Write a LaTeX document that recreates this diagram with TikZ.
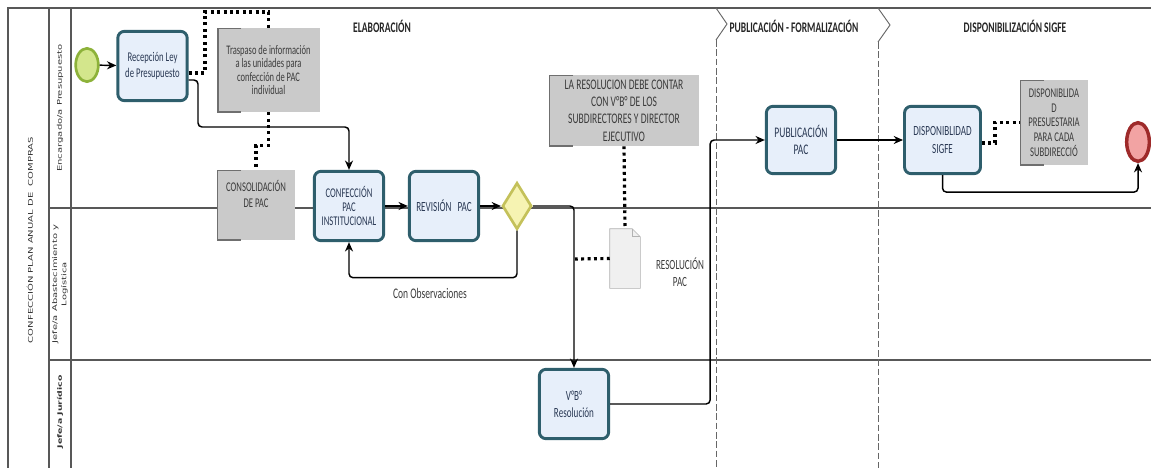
\documentclass[tikz,border=0pt]{standalone}
\usepackage{fontspec}
\setmainfont{Carlito}[FakeStretch=0.65]
\newfontfamily\lanefont{DejaVu Sans}
\usepackage{graphicx}
\usepackage[dvipsnames, svgnames]{xcolor}
\definecolor{BPMNtask}{HTML}{2E5E6C}
\definecolor{BPMNtaskfill}{HTML}{E7EFFA}
\definecolor{BPMNtext}{HTML}{2B3A55}
\definecolor{BPMNnote}{HTML}{CACACA}
\definecolor{BPMNnotetext}{HTML}{3C3C3C}
\definecolor{BPMNstart}{HTML}{D3E68C}
\definecolor{BPMNstartline}{HTML}{8DB23A}
\definecolor{BPMNend}{HTML}{F2A3A3}
\definecolor{BPMNendline}{HTML}{9E2A2A}
\definecolor{BPMNgate}{HTML}{F6F3B2}
\definecolor{BPMNgateline}{HTML}{C4C15A}
\definecolor{BPMNlane}{HTML}{585858}
\usepackage{tikz}
\usetikzlibrary{calc, arrows.meta, shapes.geometric}

\begin{document}
\begin{tikzpicture}[x=0.75pt, y=-0.75pt,
  task/.style={draw=BPMNtask, line width=2.2pt, fill=BPMNtaskfill, rounded corners=5pt,
    text=BPMNtext, font=\fontsize{10.5}{11.5}\selectfont, align=center,
    minimum width=52pt, minimum height=52pt, inner sep=1pt},
  note/.style={fill=BPMNnote, text=BPMNnotetext, align=center, inner sep=1pt,
    path picture={\draw[BPMNnote!55!black, line width=2pt]
      ([xshift=18pt]path picture bounding box.north west) -| (path picture bounding box.south west) -- ++(18pt,0);}},
  flow/.style={black, line width=1.1pt, rounded corners=3pt, -{Stealth[length=7pt, width=6pt]}},
  assoc/.style={black, line width=2.4pt, dash pattern=on 2.2pt off 2.6pt},
  lane/.style={BPMNlane, line width=1.1pt},
  phase/.style={gray!80!black, line width=0.7pt},
  title/.style={font=\bfseries\fontsize{11}{13}\selectfont, text=black!85},
  lanelabel/.style={rotate=90, font=\lanefont\fontsize{7.5}{9}\selectfont, text=black!80}
]
  \useasboundingbox (0,0) rectangle (1151,468);

  % Pool and lanes
  \draw[lane] (1151,8) -- (8,8) -- (8,468);
  \draw[lane] (49,8) -- (49,468);
  \draw[lane] (71,8) -- (71,468);
  \draw[lane] (49,208) -- (1151,208);
  \draw[lane] (49,360) -- (1151,360);
  \node[lanelabel] (pool) at (30,240) {\scalebox{1}[0.65]{CONFECCIÓN PLAN ANUAL DE \ COMPRAS}};
  \node[lanelabel] (lanePres) at (60,108) {\scalebox{1}[0.65]{Encargado/a Presupuesto}};
  \node[lanelabel] (laneAbas) at (60,284) {\scalebox{1}[0.65]{\shortstack{Jefe/a Abastecimiento y\\Logística}}};
  \node[lanelabel, font=\lanefont\bfseries\fontsize{7}{9}\selectfont] (laneJur) at (60,412) {\scalebox{1}[0.65]{Jefe/a Jurídico}};

  % Phases
  \draw[phase] (716,8) -- (727,24) -- (716,40);
  \draw[phase, dash pattern=on 5pt off 2pt] (716,40) -- (716,468);
  \draw[phase] (878,8) -- (890,25) -- (878,42);
  \draw[phase, dash pattern=on 5pt off 2pt] (878,42) -- (878,468);
  \node[title] (tElab) at (382,26) {ELABORACIÓN};
  \node[title] (tPub) at (794,26) {PUBLICACIÓN - FORMALIZACIÓN};
  \node[title] (tDisp) at (1015,26) {DISPONIBILIZACIÓN SIGFE};

  % Annotations
  \node[note, minimum width=77pt, minimum height=63pt, font=\fontsize{9.8}{9.9}\selectfont] (noteTras) at (268.5,70)
    {Traspaso de información\\a las unidades para\\confección de PAC\\individual};
  \node[note, minimum width=58.5pt, minimum height=52.5pt, font=\fontsize{10}{12}\selectfont] (noteCons) at (256,205)
    {CONSOLIDACIÓN\\DE PAC\\[4pt]};
  \begin{scope}
    \clip (549,75) rectangle (699,146);
    \node[note, minimum width=112.5pt, minimum height=53.25pt, font=\fontsize{11}{13}\selectfont] (noteRes) at (624,110.5)
      {LA RESOLUCION DEBE CONTAR\\CON V°B° DE LOS\\SUBDIRECTORES Y DIRECTOR\\EJECUTIVO};
  \end{scope}
  \node[note, minimum width=51pt, minimum height=63.75pt, font=\fontsize{10}{11}\selectfont] (noteDisp) at (1054,122.5)
    {DISPONIBLIDA\\D\\PRESUESTARIA\\PARA CADA\\SUBDIRECCIÓ};

  % Document
  \node[inner sep=0, minimum width=22.5pt, minimum height=44.25pt] (doc) at (625,258.5) {};
  \draw[fill=gray!12, draw=gray!60] (doc.south west) -- (doc.north west) -- ([xshift=-6pt]doc.north east)
    -- ([yshift=-6pt]doc.north east) -- (doc.south east) -- cycle;
  \draw[gray!60] ([xshift=-6pt]doc.north east) |- ([yshift=-6pt]doc.north east);
  \node[align=center, font=\fontsize{10.5}{12.5}\selectfont, text=BPMNnotetext] (docLabel) at (680,272) {RESOLUCIÓN\\PAC};

  % Events, gateway and tasks
  \node[ellipse, draw=BPMNstartline, fill=BPMNstart, line width=2pt, minimum width=17pt, minimum height=25pt, inner sep=0] (start) at (87,65) {};
  \node[task, font=\fontsize{10}{12}\selectfont] (recep) at (152.5,66) {Recepción Ley\\de Presupuesto};
  \node[task, font=\fontsize{10}{10.5}\selectfont] (confec) at (349,206) {CONFECCIÓN\\PAC\\INSTITUCIONAL};
  \node[task] (revis) at (444,206) {REVISIÓN \ \ PAC};
  \node[diamond, draw=BPMNgateline, fill=BPMNgate, line width=2pt, aspect=0.64, minimum width=22pt, minimum height=35pt, inner sep=0] (gate) at (517,206) {};
  \node[task, font=\fontsize{10.5}{13}\selectfont] (vobo) at (574,404) {V°B°\\Resolución};
  \node[task, minimum height=50.5pt, font=\fontsize{11}{13}\selectfont] (public) at (801,140) {PUBLICACIÓN\\PAC};
  \node[task, minimum width=57pt, minimum height=50.5pt, font=\fontsize{10.5}{13}\selectfont] (dispon) at (942.5,140) {DISPONIBLIDAD\\SIGFE};
  \node[ellipse, draw=BPMNendline, fill=BPMNend, line width=2.6pt, minimum width=17pt, minimum height=29pt, inner sep=0] (endev) at (1138,142) {};

  % Sequence flows
  \draw[flow] (start) -- (recep);
  \draw[flow] ([yshift=-10.5pt]recep.east) -| (198,127) -| (confec.north);
  \draw[flow] (confec) -- (revis);
  \draw[flow] (revis) -- (gate);
  \draw[flow] (gate.east) -| (vobo.north);
  \draw[flow] (gate.south) -- ++(0,47) -| (confec.south);
  \node[font=\fontsize{11}{12}\selectfont, text=BPMNnotetext] (obs) at (430,293) {Con Observaciones};
  \draw[flow] (vobo.east) -- ++(100,0) |- (public.west);
  \draw[flow] (public) -- (dispon);
  \draw[flow] (dispon.south) -- ++(0,17) -| (endev.south);

  % Associations
  \draw[assoc] ([yshift=-5.25pt]recep.east) -| (205,12) -| (noteTras.north);
  \draw[assoc] (noteTras.south) -- ++(0,33) -| (noteCons.north);
  \draw[assoc] (noteRes.south) -- (doc.north);
  \coordinate (flowpt) at (575,259);
  \draw[assoc] (doc.west) -- (flowpt);
  \draw[assoc] ([yshift=-2.25pt]dispon.east) -- ++(13,0) |- (noteDisp.west);

\end{tikzpicture}
\end{document}
